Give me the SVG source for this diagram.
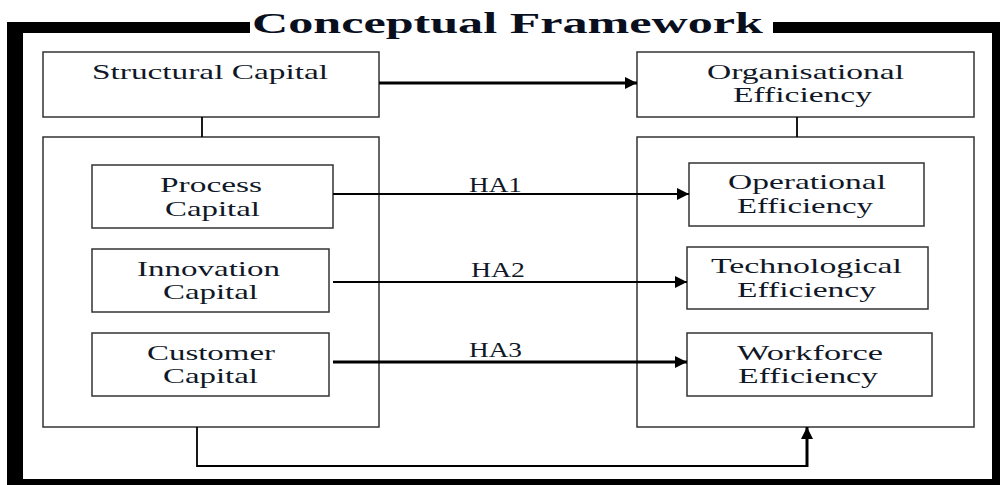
<svg xmlns="http://www.w3.org/2000/svg" width="1002" height="485" viewBox="0 0 1002 485">
<style>
.box{fill:#fff;stroke:#333;stroke-width:1.5}
.t{font-family:"Liberation Serif","Times New Roman",serif;font-size:22px;fill:#101828}
.title{font-family:"Liberation Serif","Times New Roman",serif;font-size:30px;font-weight:bold;fill:#0a0f1e}
.ln{fill:none;stroke:#000;stroke-width:1.8}
.th{fill:none;stroke:#000;stroke-width:3}
.bar{fill:#000}
</style>
<defs>
<marker id="ah" viewBox="0 0 10 10" refX="10" refY="5" markerWidth="16" markerHeight="12" markerUnits="userSpaceOnUse" orient="auto">
<path d="M0,0 L10,5 L0,10 z" fill="#000"/>
</marker>
</defs>
<rect width="1002" height="485" fill="#fff"/>
<g id="frame">
<rect class="bar" x="7" y="22" width="243" height="11"/>
<rect class="bar" x="773" y="22" width="227" height="11"/>
<rect class="bar" x="7" y="22" width="16" height="463"/>
<rect class="bar" x="992" y="22" width="8" height="463"/>
<rect class="bar" x="7" y="479" width="993" height="6"/>
<text class="title" x="252" y="33" textLength="511" lengthAdjust="spacingAndGlyphs">Conceptual Framework</text>
</g>
<g id="structural">
<rect class="box" x="43" y="52" width="336" height="65"/>
<text class="t" x="92" y="79" textLength="236" lengthAdjust="spacingAndGlyphs">Structural Capital</text>
</g>
<g id="organisational">
<rect class="box" x="637" y="52" width="337" height="65"/>
<text class="t" x="707" y="79" textLength="197" lengthAdjust="spacingAndGlyphs">Organisational</text>
<text class="t" x="733" y="102" textLength="139" lengthAdjust="spacingAndGlyphs">Efficiency</text>
</g>
<g id="left-group">
<rect class="box" x="43" y="137" width="336" height="290"/>
</g>
<g id="right-group">
<rect class="box" x="637" y="137" width="337" height="290"/>
</g>
<g id="process">
<rect class="box" x="92" y="165" width="241" height="63"/>
<text class="t" x="160" y="192" textLength="102" lengthAdjust="spacingAndGlyphs">Process</text>
<text class="t" x="165" y="216" textLength="95" lengthAdjust="spacingAndGlyphs">Capital</text>
</g>
<g id="innovation">
<rect class="box" x="92" y="249" width="237" height="63"/>
<text class="t" x="137" y="276" textLength="143" lengthAdjust="spacingAndGlyphs">Innovation</text>
<text class="t" x="163" y="299" textLength="95" lengthAdjust="spacingAndGlyphs">Capital</text>
</g>
<g id="customer">
<rect class="box" x="92" y="333" width="237" height="63"/>
<text class="t" x="147" y="360" textLength="128" lengthAdjust="spacingAndGlyphs">Customer</text>
<text class="t" x="163" y="383" textLength="95" lengthAdjust="spacingAndGlyphs">Capital</text>
</g>
<g id="operational">
<rect class="box" x="689" y="163" width="235" height="63"/>
<text class="t" x="728" y="189" textLength="158" lengthAdjust="spacingAndGlyphs">Operational</text>
<text class="t" x="737" y="213" textLength="136" lengthAdjust="spacingAndGlyphs">Efficiency</text>
</g>
<g id="technological">
<rect class="box" x="687" y="247" width="241" height="62"/>
<text class="t" x="711" y="273" textLength="191" lengthAdjust="spacingAndGlyphs">Technological</text>
<text class="t" x="737" y="297" textLength="139" lengthAdjust="spacingAndGlyphs">Efficiency</text>
</g>
<g id="workforce">
<rect class="box" x="687" y="333" width="245" height="63"/>
<text class="t" x="737" y="360" textLength="146" lengthAdjust="spacingAndGlyphs">Workforce</text>
<text class="t" x="738" y="383" textLength="140" lengthAdjust="spacingAndGlyphs">Efficiency</text>
</g>
<g id="connectors">
<line class="th" x1="379" y1="83" x2="637" y2="83" marker-end="url(#ah)"/>
<line class="ln" x1="202" y1="117" x2="202" y2="137"/>
<line class="ln" x1="797" y1="117" x2="797" y2="137"/>
<line class="ln" x1="333" y1="194" x2="689" y2="194" marker-end="url(#ah)"/>
<line class="ln" x1="333" y1="282" x2="687" y2="282" marker-end="url(#ah)"/>
<line class="th" x1="333" y1="362" x2="687" y2="362" marker-end="url(#ah)"/>
<polyline class="ln" points="197,427 197,466 807,466"/>
<line class="th" x1="807" y1="467" x2="807" y2="427" marker-end="url(#ah)"/>
<text class="t" x="469" y="192" font-size="20" textLength="53" lengthAdjust="spacingAndGlyphs">HA1</text>
<text class="t" x="471" y="277" font-size="20" textLength="54" lengthAdjust="spacingAndGlyphs">HA2</text>
<text class="t" x="469" y="357" font-size="20" textLength="53" lengthAdjust="spacingAndGlyphs">HA3</text>
</g>
</svg>
